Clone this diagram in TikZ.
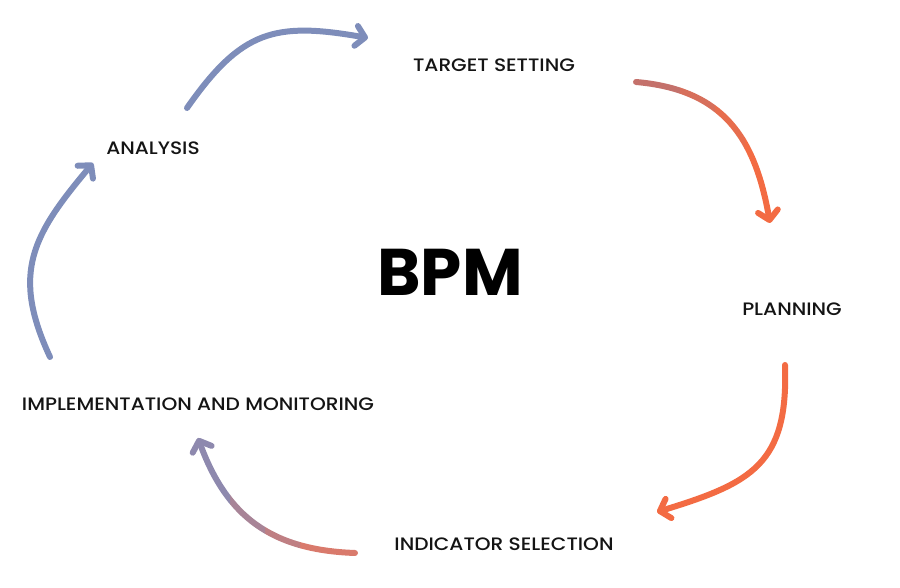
\documentclass[tikz,border=0pt]{standalone}
\usepackage{fontspec}
\setmainfont{Poppins}
\newfontfamily\stagefont{Poppins Medium}[FakeStretch=1.12]
\usepackage{tikz}
\usetikzlibrary{arrows.meta}
\usetikzlibrary{positioning}

\definecolor{bpmblue}{RGB}{126,141,186}
\definecolor{bpmrose}{RGB}{196,113,107}
\definecolor{bpmorange}{RGB}{243,107,67}
\definecolor{bpmcoral}{RGB}{217,122,108}
\definecolor{bpmpurple}{RGB}{142,137,174}

\begin{document}
\begin{tikzpicture}[x=1pt, y=1pt,
  stage/.style={font=\stagefont\fontsize{18}{20}\selectfont, text=black!92, inner sep=0pt},
  loopline/.style={line width=6pt, line cap=round},
  headed/.style={-{Straight Barb[length=9pt,width=20pt,round]}}]
\useasboundingbox (0,0) rectangle (900,588);

\node[font=\fontsize{66}{70}\selectfont\bfseries, inner sep=0pt] (BPM) at (450,316) {BPM};
\node[stage] (TS) at (494,523) {TARGET SETTING};
\node[stage] (PL) at (792,279) {PLANNING};
\node[stage] (IS) at (504,44) {INDICATOR SELECTION};
\node[stage] (IM) at (198,184) {IMPLEMENTATION AND MONITORING};
\node[stage] (AN) at (153,440) {ANALYSIS};

\coordinate (ANout) at (187,480);
\coordinate (TSin) at (368,550);
\coordinate (TSout) at (636,506);
\coordinate (PLin) at (770,365);
\coordinate (PLout) at (785,223);
\coordinate (ISin) at (657,76);
\coordinate (ISout) at (355,35);
\coordinate (IMin) at (198,150);
\coordinate (IMout) at (50,231);
\coordinate (ANin) at (93,425);

\draw[loopline, headed, bpmblue] (ANout) to[out=55,in=170,looseness=1.25] (TSin);

% colour runs from rose to orange
\foreach \xa/\xb/\shade in {600/680/bpmrose, 680/715/bpmrose!60!bpmorange, 715/745/bpmrose!25!bpmorange, 745/820/bpmorange}{
  \begin{scope}
    \clip (\xa,300) rectangle (\xb,588);
    \draw[loopline, headed, \shade] (TSout) to[out=-5,in=100,looseness=1.15] (PLin);
  \end{scope}
}

\draw[loopline, headed, bpmorange] (PLout) to[out=-88,in=17,looseness=1.3] (ISin);

% colour runs from coral to purple
\foreach \xa/\xb/\shade in {300/380/bpmcoral, 265/300/bpmcoral!65!bpmpurple, 230/265/bpmcoral!35!bpmpurple, 150/230/bpmpurple}{
  \begin{scope}
    \clip (\xa,0) rectangle (\xb,200);
    \draw[loopline, headed, \shade] (ISout) to[out=178,in=-70,looseness=1.1] (IMin);
  \end{scope}
}

\draw[loopline, headed, bpmblue] (IMout) to[out=115,in=230,looseness=1.2] (ANin);
\end{tikzpicture}
\end{document}
